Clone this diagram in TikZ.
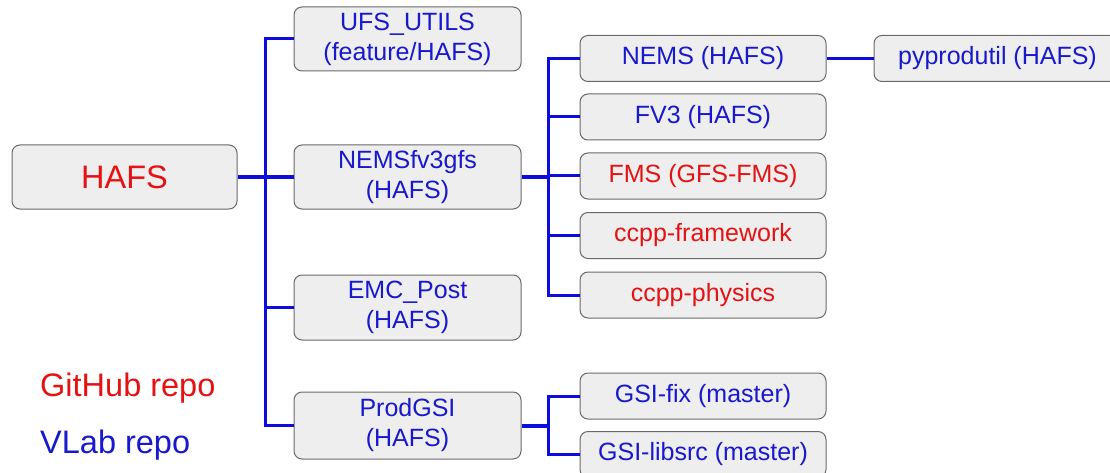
\documentclass[tikz,border=0pt]{standalone}
\usepackage{fontspec}
\setmainfont{Liberation Sans}
\definecolor{txtblue}{RGB}{24,24,205}
\definecolor{txtred}{RGB}{228,18,18}
\definecolor{lineblue}{RGB}{12,12,225}
\definecolor{boxfill}{RGB}{238,238,238}
\definecolor{boxedge}{RGB}{105,105,105}
\begin{document}
\begin{tikzpicture}[x=1pt,y=-1pt,
  repobox/.style={draw=boxedge, line width=1pt, fill=boxfill, rounded corners=8pt,
    inner sep=0pt, align=center, font=\fontsize{25}{30}\selectfont},
  bluebox/.style={repobox, text=txtblue},
  redbox/.style={repobox, text=txtred},
  conn/.style={draw=lineblue, line width=3pt},
  stem/.style={draw=lineblue, line width=4pt},
  legend/.style={anchor=west, inner sep=0pt, font=\fontsize{32.5}{36}\selectfont}]
\useasboundingbox (0,0) rectangle (1110,473);
\clip (0,0) rectangle (1110,473);

% first level
\node[redbox, minimum width=225pt, minimum height=64pt, font=\fontsize{32.5}{36}\selectfont] (hafs) at (124.5,177) {HAFS};
\node[bluebox, minimum width=227pt, minimum height=64pt] (ufs) at (407.5,39) {UFS\_UTILS\\(feature/HAFS)};
\node[bluebox, minimum width=227pt, minimum height=64pt] (nemsfv3) at (407.5,177) {NEMSfv3gfs\\(HAFS)};
\node[bluebox, minimum width=227pt, minimum height=65pt] (emc) at (407.5,307.5) {EMC\_Post\\(HAFS)};
\node[bluebox, minimum width=227pt, minimum height=67pt] (prodgsi) at (407.5,425.5) {ProdGSI\\(HAFS)};

% second level
\node[bluebox, minimum width=246pt, minimum height=46pt] (nems) at (703,58.5) {NEMS (HAFS)};
\node[bluebox, minimum width=247pt, minimum height=46pt] (pyprod) at (997.5,58.5) {pyprodutil (HAFS)};
\node[bluebox, minimum width=246pt, minimum height=46pt] (fv3) at (703,117) {FV3 (HAFS)};
\node[redbox, minimum width=246pt, minimum height=46pt] (fms) at (703,176) {FMS (GFS-FMS)};
\node[redbox, minimum width=246pt, minimum height=46pt] (ccppfw) at (703,235.5) {ccpp-framework};
\node[redbox, minimum width=246pt, minimum height=46pt] (ccppph) at (703,295) {ccpp-physics};
\node[bluebox, minimum width=246pt, minimum height=46pt] (gsifix) at (703,396) {GSI-fix (master)};
\node[bluebox, minimum width=246pt, minimum height=46pt] (gsilib) at (703,454.5) {GSI-libsrc (master)};

% legend
\node[legend, text=txtred] (lgh) at (40,388) {GitHub repo};
\node[legend, text=txtblue] (lvl) at (40,445) {VLab repo};

% connectors: HAFS level
\draw[stem] (hafs.east) -- (nemsfv3.west);
\draw[conn] (ufs.west) -- ++(-28,0) |- (prodgsi.west);
\draw[conn] (emc.west) -- ++(-28,0);

% connectors: NEMSfv3gfs level
\draw[stem] (nemsfv3.east) -- ++(28,0);
\draw[conn] (nems.west) -- ++(-31,0) |- (ccppph.west);
\draw[conn] (fv3.west) -- ++(-31,0);
\draw[conn] (fms.west) -- ++(-31,0);
\draw[conn] (ccppfw.west) -- ++(-31,0);
\draw[conn] (nems.east) -- (pyprod.west);

% connectors: ProdGSI level
\draw[stem] (prodgsi.east) -- ++(28,0);
\draw[conn] (gsifix.west) -- ++(-31,0) |- (gsilib.west);
\end{tikzpicture}
\end{document}
